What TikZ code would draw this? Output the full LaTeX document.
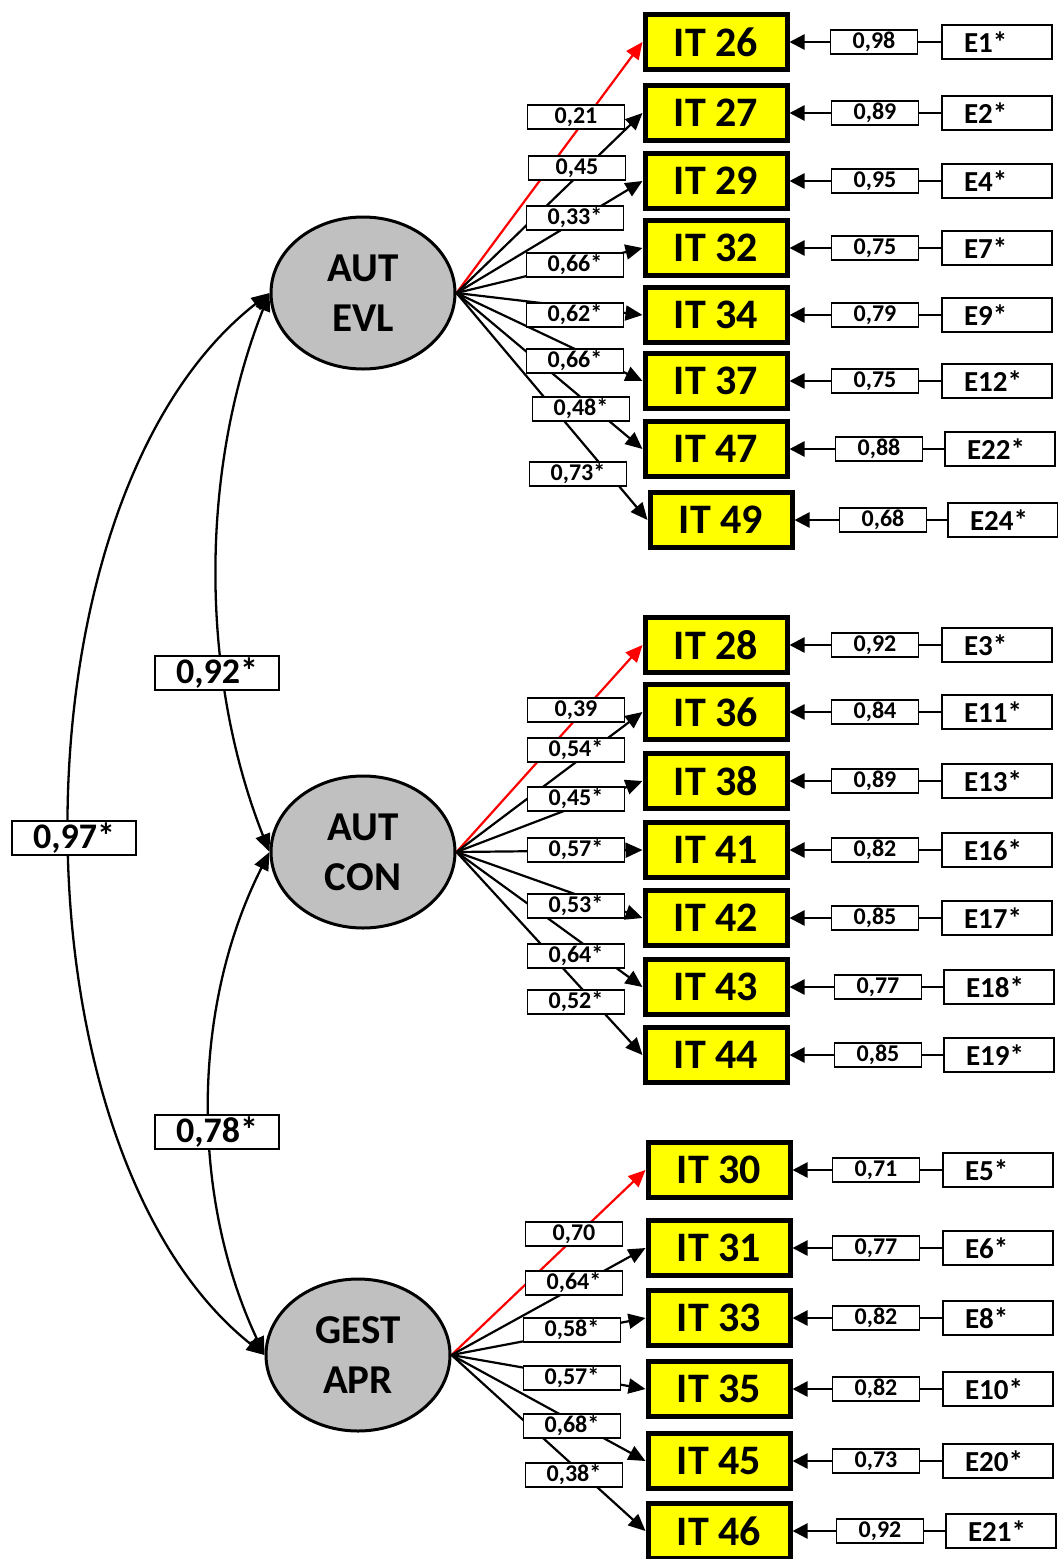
\documentclass[tikz,border=0pt]{standalone}
\usepackage{fontspec}
\setmainfont{Carlito}
\usetikzlibrary{arrows.meta,shapes.geometric}
\definecolor{latgray}{HTML}{C0C0C0}
\definecolor{ityellow}{HTML}{FFFF00}
\begin{document}
\begin{tikzpicture}[x=1pt,y=-1pt,
  lat/.style={ellipse, draw, fill=latgray, line width=3pt, minimum width=184pt, minimum height=152pt, inner sep=0pt, align=center, font=\bfseries\fontsize{41}{50}\selectfont},
  itbox/.style={rectangle, draw, fill=ityellow, line width=5pt, minimum width=142pt, minimum height=55pt, inner sep=0pt, font=\bfseries\fontsize{42}{42}\selectfont},
  valbox/.style={rectangle, draw, fill=white, line width=1.3pt, minimum width=87pt, minimum height=24pt, inner sep=0pt, font=\bfseries\fontsize{24}{24}\selectfont},
  ldbox/.style={valbox, minimum width=97pt},
  errbox/.style={rectangle, draw, fill=white, line width=1.3pt, minimum width=110pt, minimum height=34pt, inner sep=0pt, text width=66pt, align=left, font=\bfseries\fontsize{29}{29}\selectfont},
  covbox/.style={rectangle, draw, fill=white, line width=2.2pt, minimum width=124pt, minimum height=34pt, inner sep=0pt, font=\bfseries\fontsize{36}{36}\selectfont},
  load/.style={line width=2.2pt, -{Triangle[length=17pt,width=15pt]}},
  redload/.style={load, red},
  errarrow/.style={line width=2.4pt, -{Triangle[length=15pt,width=15pt]}},
  errline/.style={line width=2.4pt},
  cov/.style={line width=2.3pt, {Triangle[length=18pt,width=15pt]}-{Triangle[length=18pt,width=15pt]}}
]
\useasboundingbox (0,0) rectangle (1058,1559);
\clip (0,0) rectangle (1058,1559);

% latent variables
\node[lat] (evl) at (363,293) {AUT\\EVL};
\node[lat] (con) at (363,852) {AUT\\CON};
\node[lat] (apr) at (358,1355) {GEST\\APR};

% indicators with error terms
\foreach \id/\y/\ix/\v/\vx/\e/\ex in {
  26/42/716/{0,98}/874/{E1*}/997,
  27/113/716/{0,89}/875/{E2*}/997,
  29/181/716/{0,95}/875/{E4*}/997,
  32/248/716/{0,75}/875/{E7*}/997,
  34/315/716/{0,79}/875/{E9*}/997,
  37/381/716/{0,75}/875/{E12*}/997,
  47/449/716/{0,88}/879/{E22*}/1000,
  49/520/721/{0,68}/883/{E24*}/1003,
  28/645/716/{0,92}/875/{E3*}/997,
  36/712/716/{0,84}/875/{E11*}/997,
  38/781/716/{0,89}/875/{E13*}/997,
  41/850/716/{0,82}/875/{E16*}/997,
  42/918/716/{0,85}/875/{E17*}/997,
  43/987/716/{0,77}/878/{E18*}/999,
  44/1055/716/{0,85}/878/{E19*}/999,
  30/1170/719/{0,71}/876/{E5*}/998,
  31/1248/719/{0,77}/876/{E6*}/998,
  33/1318/719/{0,82}/876/{E8*}/998,
  35/1389/719/{0,82}/876/{E10*}/998,
  45/1461/719/{0,73}/876/{E20*}/998,
  46/1531/719/{0,92}/880/{E21*}/1001}{
  \node[itbox] (it\id) at (\ix,\y) {IT \id};
  \node[valbox] (v\id) at (\vx,\y) {\v};
  \node[errbox] (e\id) at (\ex,\y) {\e};
  \draw[errarrow] (v\id.west) -- (it\id.east);
  \draw[errline] (e\id.west) -- (v\id.east);
}

% loadings
\draw[redload] (evl.east) -- (it26.west);
\foreach \id in {27,29,32,34,37,47,49} \draw[load] (evl.east) -- (it\id.west);
\draw[redload] (con.east) -- (it28.west);
\foreach \id in {36,38,41,42,43,44} \draw[load] (con.east) -- (it\id.west);
\draw[redload] (apr.east) -- (it30.west);
\foreach \id in {31,33,35,45,46} \draw[load] (apr.east) -- (it\id.west);

% loading labels
\foreach \n/\x/\y/\t in {
  a1/576/117/{0,21}, a2/577/168/{0,45}, a3/575/218/{0,33*}, a4/575/265/{0,66*},
  a5/575/315/{0,62*}, a6/575/361/{0,66*}, a7/581/409/{0,48*}, a8/578/474/{0,73*},
  b1/576/710/{0,39}, b2/576/750/{0,54*}, b3/576/799/{0,45*}, b4/576/850/{0,57*},
  b5/576/906/{0,53*}, b6/576/956/{0,64*}, b7/576/1002/{0,52*},
  c1/574/1234/{0,70}, c2/574/1283/{0,64*}, c3/572/1330/{0,58*}, c4/572/1378/{0,57*},
  c5/572/1426/{0,68*}, c6/574/1475/{0,38*}}{
  \node[ldbox] (l\n) at (\x,\y) {\t};
}

% covariances
\draw[cov] (evl.west) .. controls +(-70,177) and +(-70,-177) .. (con.west);
\draw[cov] (con.west) .. controls +(-80,158) and +(-73,-155) .. (apr.west);
\draw[cov] (evl.west) .. controls +(-265,207) and +(-258,-205) .. (apr.west);
\node[covbox] (k1) at (217,673) {0,92*};
\node[covbox] (k2) at (217,1132) {0,78*};
\node[covbox] (k3) at (74,838) {0,97*};
\end{tikzpicture}
\end{document}
